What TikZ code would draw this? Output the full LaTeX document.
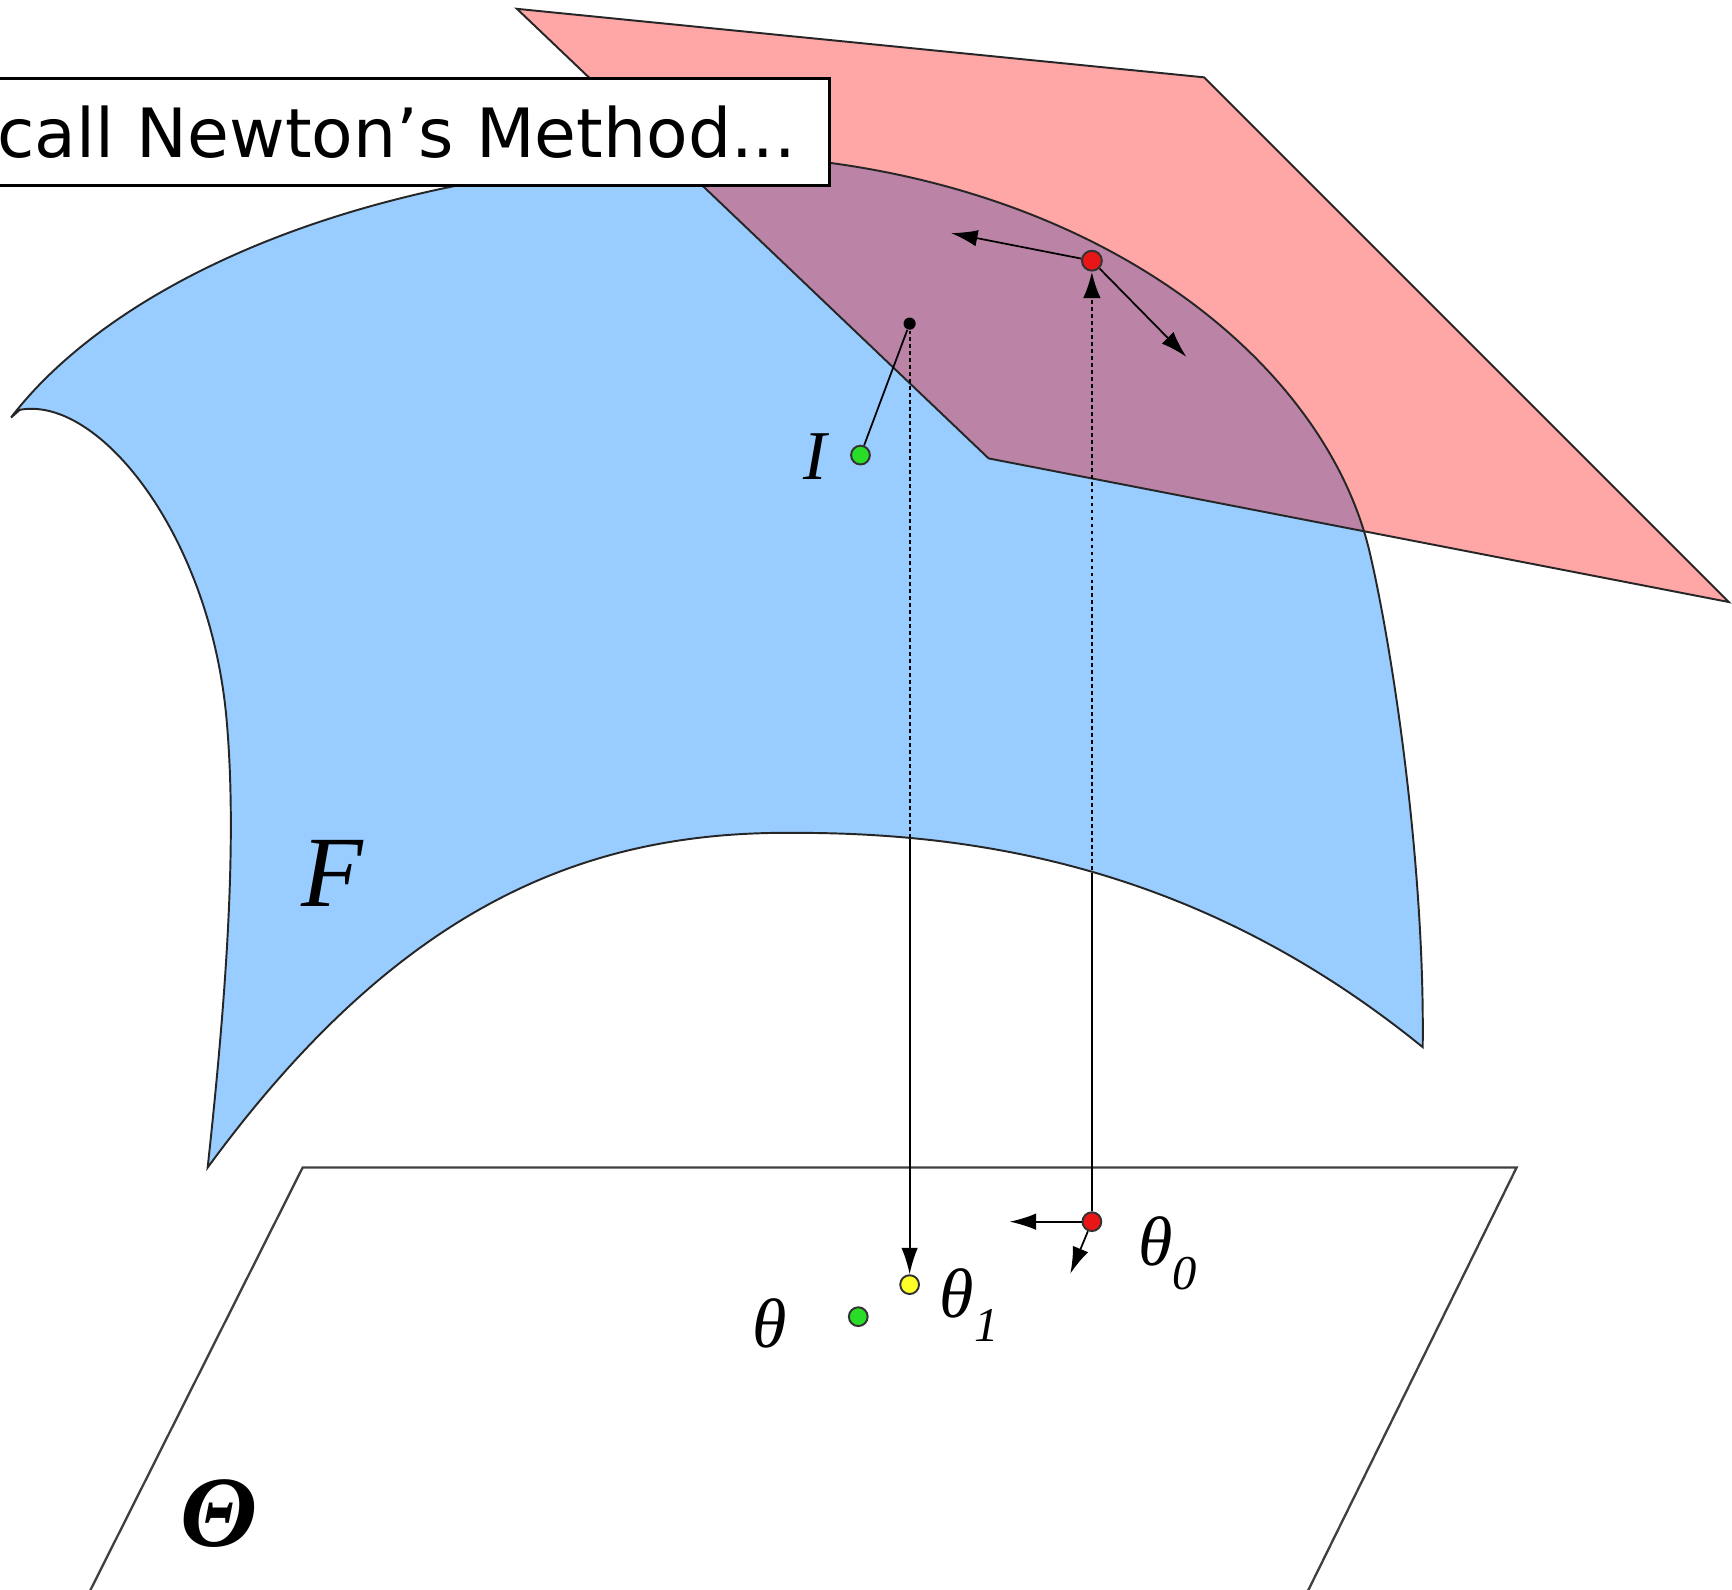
\documentclass[tikz,border=0pt]{standalone}
\usepackage{fontspec}
\setmainfont{Liberation Serif}
\newfontfamily\boxfont{DejaVu Sans}
\usetikzlibrary{arrows.meta}
\definecolor{surfblue}{RGB}{153,204,255}
\definecolor{planepink}{RGB}{255,166,166}
\definecolor{overlap}{RGB}{187,131,166}
\definecolor{dotred}{RGB}{232,22,22}
\definecolor{dotgreen}{RGB}{40,220,40}
\definecolor{dotyellow}{RGB}{255,255,40}
\begin{document}
\begin{tikzpicture}[x=0.01cm,y=-0.01cm,
  edge/.style={line width=0.5pt, draw=black!85},
  arr/.style={line width=0.45pt, -{Latex[length=0.24cm,width=0.15cm]}},
  hidden/.style={line width=0.7pt, dash pattern=on 1pt off 0.8pt},
  dotnode/.style={circle, draw=black!80, line width=0.5pt, inner sep=0pt, minimum size=0.17cm},
  lbl/.style={inner sep=0pt, font=\itshape\fontsize{18}{18}\selectfont}
]
\clip (0,0) rectangle (1568,1439);
\def\surfpath{(10,378) .. controls (100,260) and (330,140) .. (700,142)
 .. controls (1000,165) and (1200,330) .. (1240,500)
 .. controls (1260,585) and (1290,780) .. (1288,948)
 .. controls (1096,792) and (900,754) .. (721,754)
 .. controls (540,752) and (368,811) .. (188,1057)
 .. controls (205,900) and (215,760) .. (205,650)
 .. controls (190,485) and (90,358) .. (18,371) -- cycle}
\def\pinkpath{(468,8) -- (1090,70) -- (1565,545) -- (895,415) -- cycle}
% parameter plane Theta
\draw[line width=0.6pt, draw=black!75] (62,1479) -- (274,1057) -- (1373,1057) -- (1165,1479);
% surface F
\fill[surfblue] \surfpath;
% tangent plane
\fill[planepink] \pinkpath;
\begin{scope}
  \clip \pinkpath;
  \fill[overlap] \surfpath;
\end{scope}
\draw[edge] \surfpath;
\draw[edge] \pinkpath;
% points
\node[dotnode, fill=dotred, minimum size=0.18cm] (rtop) at (988.5,236) {};
\node[circle, fill=black, inner sep=0pt, minimum size=0.11cm] (bdot) at (823.5,293) {};
\node[dotnode, fill=dotgreen] (Idot) at (779,412) {};
\node[dotnode, fill=dotred] (rth0) at (988.5,1106) {};
\node[dotnode, fill=dotyellow] (yth1) at (823.5,1163) {};
\node[dotnode, fill=dotgreen] (gth) at (777,1192) {};
\coordinate (cx0) at (988.5,794);
\coordinate (cx1) at (823.5,760);
\coordinate (tl) at (861,211);
\coordinate (tr) at (1074,323);
\coordinate (bl) at (914,1106);
\coordinate (bd) at (969,1153);
% connectors
\draw[line width=0.45pt] (rth0) -- (cx0);
\draw[hidden, -{Latex[length=0.24cm,width=0.16cm]}] (cx0) -- (rtop);
\draw[hidden, line width=0.55pt] (bdot) -- (cx1);
\draw[arr] (cx1) -- (yth1);
\draw[line width=0.45pt] (bdot) -- (Idot);
\draw[arr] (rtop) -- (tl);
\draw[arr] (rtop) -- (tr);
\draw[arr] (rth0) -- (bl);
\draw[arr] (rth0) -- (bd);
% labels
\node[lbl] (Ilab) at (738,413) {I};
\node[lbl, font=\itshape\fontsize{26}{26}\selectfont] (Flab) at (301,791) {F};
\node[lbl, font=\bfseries\itshape\fontsize{26}{26}\selectfont] (Tlab) at (198,1370) {Θ};
\node[lbl] (thlab) at (697,1198) {θ};
\node[lbl, anchor=base west] (th0lab) at (1030,1146) {θ\raisebox{-6pt}{\fontsize{12.5}{12.5}\selectfont 0}};
\node[lbl, anchor=base west] (th1lab) at (850,1193) {θ\raisebox{-6pt}{\fontsize{12.5}{12.5}\selectfont 1}};
% title box
\node[draw, fill=white, line width=0.8pt, anchor=east, inner xsep=0.3cm, inner ysep=0pt,
  minimum height=0.97cm, text width=7.4cm, align=right,
  font=\boxfont\fontsize{17.5}{17.5}\selectfont] (title) at (752,119.5) {call Newton’s Method...};
\end{tikzpicture}
\end{document}
